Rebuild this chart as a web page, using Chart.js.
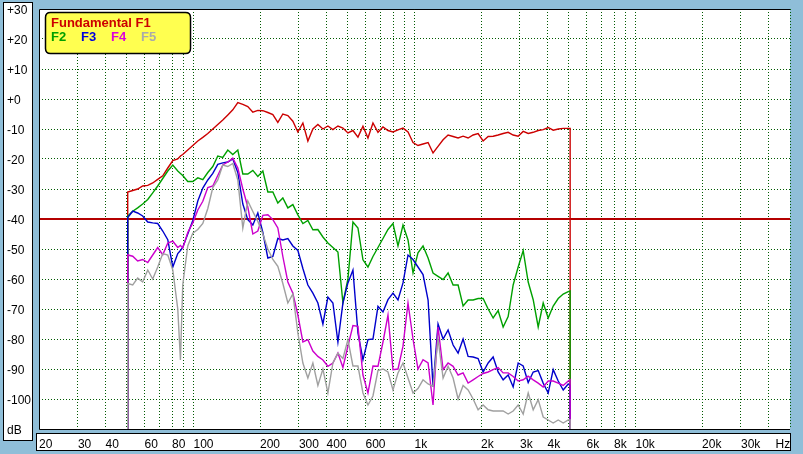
<!DOCTYPE html>
<html><head><meta charset="utf-8">
<script src="https://cdn.jsdelivr.net/npm/chart.js@4.4.1/dist/chart.umd.min.js"></script>
<style>html,body{margin:0;padding:0;background:#8fbed8;overflow:hidden}canvas{display:block}</style>
</head><body>
<canvas id="c" width="803" height="454"></canvas>
<script>
// ---- data ----
const freqsHz = [50.4,53.1,55.9,58.9,62.1,65.4,68.9,72.6,76.5,80.6,84.9,87.3,89.4,94.2,99.3,104.6,110.2,116.1,122.3,128.8,135.7,143.0,150.6,158.7,167.2,176.1,185.6,195.5,206.0,217.0,228.6,240.8,253.7,267.3,281.6,296.7,312.6,329.3,346.9,365.5,385.1,405.7,427.4,450.3,474.4,499.8,526.6,554.8,584.5,615.8,648.7,683.5,720.1,758.6,799.2,842.0,887.1,934.6,984.6,1037,1093,1152,1213,1278,1347,1419,1495,1575,1659,1748,1842,1940,2044,2154,2269,2390,2518,2653,2795,2945,3103,3269,3444,3628,3822,4027,4242,4469,4709,4961,5060];

const f1Fundamental = [-31,-30.5,-30,-29,-28.8,-28,-26.8,-25.6,-23,-20.5,-20,-19,-18.5,-17,-15.5,-14,-12.8,-11.5,-10,-8.5,-7,-5.3,-3.6,-1.2,-1.8,-2.5,-4.4,-3.8,-3.9,-4.5,-5.2,-7.8,-5,-5.5,-7.4,-11,-8,-14,-10,-8.5,-10,-9,-10.2,-9,-9.7,-11.3,-10.5,-12.7,-9.1,-13,-8,-11.1,-9.3,-10.5,-11,-10.3,-9.7,-11,-14.5,-15.5,-15,-14.5,-18,-15.8,-13.6,-12,-12.5,-13,-12.4,-13,-12,-11.5,-14,-12.5,-12.4,-12,-11.5,-11.1,-12,-12.4,-10.8,-11.5,-11.1,-10.5,-10.2,-9.5,-10.4,-10,-9.8,-9.8,-9.8];

const f2Values = [-39,-37.4,-36.3,-35,-33.5,-31.3,-29,-26.5,-24,-22,-24,-24.8,-25.5,-27.5,-27.5,-26.3,-26.9,-24.5,-22.5,-19,-19.5,-17,-18.5,-17,-25,-25,-23.8,-25.8,-24,-31,-31,-34.7,-33,-36.3,-35.2,-38.6,-41.5,-40.5,-43.6,-43.5,-46,-48,-49.5,-51,-68,-60,-41,-43,-53.6,-56,-52.5,-49.5,-46.5,-43.5,-41.5,-49,-42,-47,-58,-51.3,-49,-53,-58,-59.1,-60.2,-58,-62,-62,-69,-67,-67,-66.5,-66.5,-70,-73,-70.5,-76,-72.5,-62,-56,-50.5,-61,-66.9,-76,-68,-73,-69,-66.5,-65,-64.2,-64];

const f3Values = [-39.5,-37.4,-38,-39,-41,-41.3,-41.5,-44,-46.9,-56,-51.5,-50.5,-49.5,-45,-40.5,-34,-29.7,-27,-24.8,-21.8,-21.3,-21,-20,-24.5,-35,-40.2,-42,-38,-44.5,-53,-52.5,-46.5,-47,-46.5,-49,-50.5,-56.5,-62,-64.7,-68,-75,-66,-68,-81,-68,-61.3,-57,-78,-86.9,-80.2,-80,-69.1,-71,-66.9,-64.7,-67,-61.3,-52,-53.5,-56,-58.5,-67,-96,-75,-80,-77,-82,-84.7,-80,-85.8,-86,-86.5,-91,-88,-86,-91,-93.6,-92,-96,-88,-89,-94.5,-91,-90.5,-94.7,-98,-90.2,-94,-97,-95,-95.5];

const f4Values = [-52,-52.4,-54,-53.5,-54.5,-52,-49.5,-51.9,-48,-47.4,-49.5,-48.8,-49.7,-44.5,-41.3,-37,-34.1,-29.5,-29,-25.5,-22,-21,-19.7,-23,-30,-36,-45,-44,-38.8,-38.6,-40.2,-43,-52.5,-61,-64.7,-72,-81,-80.2,-84,-85.8,-87,-89.1,-88,-84.7,-89.5,-82.4,-75.5,-75.8,-92,-98,-89,-89.1,-81,-72,-90.2,-90,-82.4,-68,-80,-90,-86.9,-88,-102,-76,-90.2,-88,-89.1,-92,-91.3,-94.7,-93.6,-92.5,-91.5,-91,-90.2,-89.5,-91.3,-91.3,-92.5,-94,-93.6,-92.4,-93.6,-94.7,-96,-94,-94,-94.7,-95.5,-94,-93.6];

const f5Values = [-61.5,-62,-59.7,-61,-57,-60,-56,-51.5,-52,-57,-70,-87,-62,-49,-44.7,-43.5,-41.5,-36.5,-29.5,-27,-22,-22.5,-21.5,-27,-43,-34,-37.5,-40.8,-45,-50,-53.5,-55.8,-61.5,-68,-65,-78,-88,-93,-88,-95.5,-90,-98,-88,-84.7,-86.5,-80.2,-89,-89,-98,-102,-99,-90.5,-90,-91,-97,-91.3,-88,-93,-98,-96.5,-93.6,-95,-95.8,-80,-93,-89.1,-93,-100,-95.5,-97,-100,-103.6,-102,-103.6,-104,-104,-104,-105,-104,-102,-105,-98,-103.6,-100.2,-106,-107,-108,-107,-108,-107,-107];

const seriesNames = ['Fundamental F1','F2','F3','F4','F5'];
const yTickValues = [-110,-100,-90,-80,-70,-60,-50,-40,-30,-20,-10,0,10,20,30];
const xGridFreqs = [20,30,40,50,60,70,80,90,100,200,300,400,500,600,700,800,900,1000,2000,3000,4000,5000,6000,7000,8000,9000,10000,20000,30000,40000,50000];
const xLabelText = {20:'20',30:'30',40:'40',60:'60',80:'80',100:'100',200:'200',300:'300',400:'400',600:'600',1000:'1k',2000:'2k',3000:'3k',4000:'4k',6000:'6k',8000:'8k',10000:'10k',20000:'20k',30000:'30k'};
const unitLabelFreq = 43000;
const unitLabel = 'Hz';
const refLevel = -40;
const floorLevel = -110;
const topLevel = 30;

// ---- build ----
function toPoints(values){
  const last = freqsHz.length - 1;
  const pts = [{x: freqsHz[0], y: floorLevel}];
  values.forEach((v,i)=>pts.push({x: freqsHz[i], y: v}));
  pts.push({x: freqsHz[last], y: floorLevel});
  return pts;
}
const colors = ['#cc0000','#00a000','#0000cc','#cc00cc','#a0a0a0'];
const legendColors = ['#cc0000','#00a000','#0000dd','#dd00dd','#aaaaaa'];
const allValues = [f1Fundamental,f2Values,f3Values,f4Values,f5Values];
const datasets = allValues.map((vals,i)=>({
  label: seriesNames[i], data: toPoints(vals), borderColor: colors[i],
  borderWidth: 1.4, pointRadius: 0, tension: 0, fill: false, order: 5 - i
}));

const GRID = '#005a00';
const framePlugin = {
  id: 'frame',
  beforeDraw(chart){
    const {ctx, chartArea: a} = chart;
    ctx.save();
    ctx.fillStyle = '#8fbed8';
    ctx.fillRect(0,0,chart.width,chart.height);
    ctx.fillStyle = '#ffffff'; ctx.strokeStyle = '#000'; ctx.lineWidth = 1;
    ctx.fillRect(3.5,2.5,29,438); ctx.strokeRect(3.5,2.5,29,438);
    ctx.fillRect(36.5,433.5,754,17); ctx.strokeRect(36.5,433.5,754,17);
    ctx.fillRect(a.left, a.top, a.right - a.left, a.bottom - a.top);
    ctx.restore();
  },
  beforeDatasetsDraw(chart){
    const {ctx, chartArea: a, scales} = chart;
    ctx.save();
    const yr = Math.round(scales.y.getPixelForValue(refLevel));
    ctx.strokeStyle = '#b40000'; ctx.lineWidth = 2;
    ctx.beginPath(); ctx.moveTo(a.left, yr); ctx.lineTo(a.right, yr); ctx.stroke();
    ctx.strokeStyle = '#000'; ctx.lineWidth = 1;
    const yt = Math.round(scales.y.getPixelForValue(topLevel)) + 0.5;
    const yb = Math.round(scales.y.getPixelForValue(floorLevel)) + 0.5;
    const xl = Math.round(a.left) + 0.5;
    ctx.beginPath();
    ctx.moveTo(xl, yt); ctx.lineTo(a.right, yt);
    ctx.moveTo(xl, yt); ctx.lineTo(xl, yb);
    ctx.moveTo(xl, yb); ctx.lineTo(a.right, yb);
    ctx.stroke();
    ctx.restore();
  },
  afterDraw(chart){
    const ctx = chart.ctx;
    ctx.save();
    const x0=45.5,y0=12.5,w=145,h=41,r=5;
    ctx.beginPath();
    ctx.moveTo(x0+r,y0); ctx.lineTo(x0+w-r,y0); ctx.quadraticCurveTo(x0+w,y0,x0+w,y0+r);
    ctx.lineTo(x0+w,y0+h-r); ctx.quadraticCurveTo(x0+w,y0+h,x0+w-r,y0+h);
    ctx.lineTo(x0+r,y0+h); ctx.quadraticCurveTo(x0,y0+h,x0,y0+h-r);
    ctx.lineTo(x0,y0+r); ctx.quadraticCurveTo(x0,y0,x0+r,y0); ctx.closePath();
    ctx.fillStyle = '#ffff50'; ctx.fill();
    ctx.strokeStyle = '#000'; ctx.lineWidth = 1.5; ctx.stroke();
    ctx.font = 'bold 13px "Liberation Sans", Arial, sans-serif';
    ctx.textBaseline = 'alphabetic'; ctx.textAlign = 'left';
    const ds = chart.data.datasets;
    ctx.fillStyle = legendColors[0]; ctx.fillText(ds[0].label, 51, 27);
    for (let i=1;i<ds.length;i++){ ctx.fillStyle = legendColors[i]; ctx.fillText(ds[i].label, 51 + (i-1)*30, 41); }
    ctx.restore();
  }
};

Chart.defaults.font.family = '"Liberation Sans", Arial, sans-serif';
new Chart(document.getElementById('c'), {
  type: 'line',
  data: { datasets },
  options: {
    responsive: false, animation: false, devicePixelRatio: 1,
    layout: { padding: { left: 7, right: 13, top: 9, bottom: 0 } },
    plugins: { legend: { display: false }, tooltip: { enabled: false } },
    scales: {
      x: {
        type: 'logarithmic', position: 'bottom', min: 20, max: 50000,
        afterBuildTicks: s => { s.ticks = xGridFreqs.concat([unitLabelFreq]).sort((a,b)=>a-b).map(v=>({value:v})); },
        afterFit: s => { s.height = 25; },
        ticks: { autoSkip:false, maxRotation:0, minRotation:0, align:'start', padding:8, color:'#000',
                 font:{size:12}, callback: v => v === unitLabelFreq ? unitLabel : (xLabelText[v] || '') },
        grid: { drawTicks:false, tickLength:0, lineWidth:1,
                color: c => (c.tick && (c.tick.value === unitLabelFreq || c.tick.value === 20)) ? 'rgba(0,0,0,0)' : GRID },
        border: { display:false, dash:[1,2] }
      },
      y: {
        type: 'linear', position: 'left', min: floorLevel, max: topLevel,
        afterBuildTicks: s => { s.ticks = yTickValues.map(v=>({value:v})); },
        afterFit: s => { s.width = 32; },
        ticks: { crossAlign:'far', padding:0, labelOffset:2, color:'#000', font:{size:12},
                 callback: v => v === floorLevel ? 'dB' : (v >= 0 ? '+' + v : String(v)) },
        grid: { drawTicks:false, tickLength:0, lineWidth:1,
                color: c => (c.tick && (c.tick.value === refLevel || c.tick.value === topLevel || c.tick.value === floorLevel)) ? 'rgba(0,0,0,0)' : GRID },
        border: { display:false, dash:[1,2] }
      }
    }
  },
  plugins: [framePlugin]
});
</script>
</body></html>
